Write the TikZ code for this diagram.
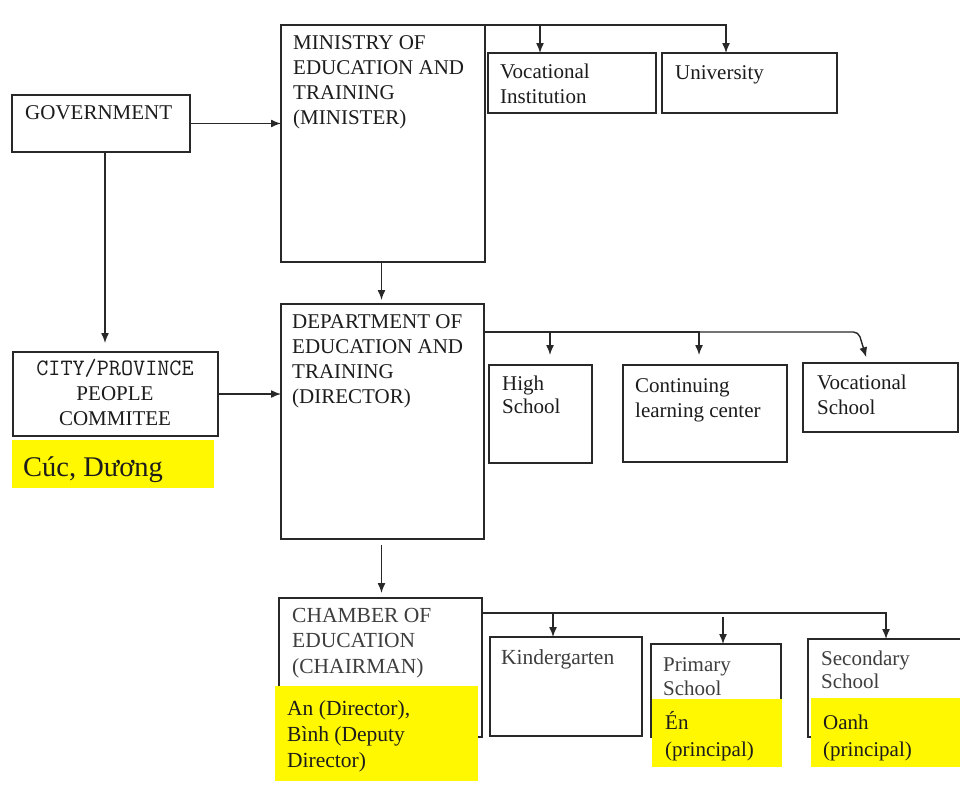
\documentclass[tikz,border=0pt]{standalone}
\usepackage{fontspec}
\setmainfont{Liberation Serif}
\usetikzlibrary{arrows.meta,calc}
\definecolor{hl}{RGB}{255,248,0}
\definecolor{ink}{RGB}{28,28,28}
\definecolor{inkg}{RGB}{62,62,62}
\definecolor{edge}{RGB}{40,40,40}
\newcommand\tstrut{\rule{0pt}{20pt}}
\begin{document}
\begin{tikzpicture}[x=1pt,y=-1pt,
  box/.style={draw=edge,line width=1.5pt,anchor=north west,inner sep=0pt,outer sep=0pt},
  hlbox/.style={fill=hl,anchor=north west,inner sep=0pt,outer sep=0pt},
  txt/.style={anchor=north west,inner sep=0pt,align=left,text=ink,font=\fontsize{21}{25}\selectfont},
  txtg/.style={txt,text=inkg,font=\fontsize{21.5}{25.5}\selectfont},
  arr/.style={draw=edge,line width=1.4pt,-{Latex[length=10pt,width=8pt]}},
  ln/.style={draw=edge,line width=1.4pt}]
\useasboundingbox (0,0) rectangle (960,809);
\clip (0,0) rectangle (960,809);
\fill[white] (0,0) rectangle (960,809);

% boxes
\node[box,minimum width=178pt,minimum height=57pt] (gov) at (12,95) {};
\node[box,minimum width=204pt,minimum height=237pt] (min) at (281,25) {};
\node[box,minimum width=168pt,minimum height=60pt] (vinst) at (488,53) {};
\node[box,minimum width=175pt,minimum height=60pt] (univ) at (662,53) {};
\node[box,minimum width=205pt,minimum height=84pt] (city) at (13,352) {};
\node[box,minimum width=203pt,minimum height=235pt] (dept) at (281,304) {};
\node[box,minimum width=103pt,minimum height=98pt] (high) at (489,365) {};
\node[box,minimum width=164pt,minimum height=97pt] (cont) at (623,365) {};
\node[box,minimum width=155pt,minimum height=69pt] (vsch) at (803,363) {};
\node[box,minimum width=203pt,minimum height=139pt] (cham) at (279,598) {};
\node[box,minimum width=152pt,minimum height=99pt] (kind) at (490,637) {};
\node[box,minimum width=130pt,minimum height=93pt] (prim) at (651,644) {};
\node[box,minimum width=170pt,minimum height=98pt] (sec) at (808,639) {};

% highlights
\node[hlbox,minimum width=202pt,minimum height=48pt] (cucbg) at (12,440) {};
\node[hlbox,minimum width=203pt,minimum height=95pt] (chambg) at (275,686) {};
\node[hlbox,minimum width=130pt,minimum height=68pt] (primbg) at (652,699) {};
\node[hlbox,minimum width=160pt,minimum height=69pt] (secbg) at (811,698) {};

% texts
\node[txt] (govt) at (25,99) {\tstrut GOVERNMENT};
\node[txt] (mint) at (293,29) {\tstrut MINISTRY OF\\EDUCATION AND\\TRAINING\\(MINISTER)};
\node[txt] (vinstt) at (500,58) {\tstrut Vocational\\Institution};
\node[txt] (univt) at (675,59) {\tstrut University};
\node[txt] (deptt) at (292,308) {\tstrut DEPARTMENT OF\\EDUCATION AND\\TRAINING\\(DIRECTOR)};
\node[txt,anchor=north,align=center] (cityt) at (115,355) {\tstrut{\ttfamily\fontsize{23.5}{25}\selectfont CITY/PROVINCE}\\PEOPLE\\COMMITEE};
\node[txt,anchor=base west,font=\fontsize{28.5}{34}\selectfont] (cuct) at (23,476) {Cúc, Dương};
\node[txt,font=\fontsize{21}{23.5}\selectfont] (hight) at (502,370) {\tstrut High\\School};
\node[txt] (contt) at (635,372) {\tstrut Continuing\\learning center};
\node[txt] (vscht) at (817,369) {\tstrut Vocational\\School};
\node[txtg] (chamt) at (292,602) {\tstrut CHAMBER OF\\EDUCATION\\(CHAIRMAN)};
\node[txt,font=\fontsize{21.5}{26}\selectfont] (chambt) at (287,695) {\tstrut An (Director),\\Bình (Deputy\\Director)};
\node[txtg] (kindt) at (501,644) {\tstrut Kindergarten};
\node[txtg,font=\fontsize{21}{24}\selectfont] (primt) at (663,651) {\tstrut Primary\\School};
\node[txtg,font=\fontsize{21}{23.5}\selectfont] (sect) at (821,645) {\tstrut Secondary\\School};
\node[txt,font=\fontsize{21}{27}\selectfont] (primbt) at (665,709) {\tstrut Én\\(principal)};
\node[txt,font=\fontsize{21}{27}\selectfont] (secbt) at (823,709) {\tstrut Oanh\\(principal)};

% connectors
\draw[arr] (gov.east) -- (gov.east -| min.west);
\draw[arr,shorten >=9pt] ([xshift=4pt]gov.south) -- ([xshift=4pt]gov.south |- city.north);
\draw[arr] (city.east) -- (city.east -| dept.west);
\draw[arr,shorten >=4pt] ([xshift=-1.5pt]min.south) -- ([xshift=-1.5pt]min.south |- dept.north);
\draw[arr,shorten <=6pt,shorten >=5pt] ([xshift=-1pt]dept.south) -- ([xshift=-1pt]dept.south |- cham.north);

\draw[arr] (min.north east) -| ([xshift=-32pt]vinst.north);
\draw[arr] (min.north east) -| ([xshift=-23.5pt]univ.north);

\coordinate (dbr) at ($(dept.north east)+(0,28)$);
\draw[arr,shorten >=10pt] (dbr) -| ([xshift=9.5pt]high.north);
\draw[arr,shorten >=10pt] (dbr) -| ([xshift=-6pt]cont.north);
\draw[arr,rounded corners=5pt,shorten >=6pt] (dbr) -- ($(vsch.north)+(-22,-31)$) -- ([xshift=-12.5pt]vsch.north);

\coordinate (cbr) at ($(cham.north east)+(0,15)$);
\draw[arr] (cbr) -| ([xshift=-13pt]kind.north);
\draw[arr] (cbr) -| ([xshift=-7pt]sec.north);
\draw[arr] ([xshift=7pt,yshift=27pt]prim.north) -- ([xshift=7pt]prim.north);
\end{tikzpicture}
\end{document}
